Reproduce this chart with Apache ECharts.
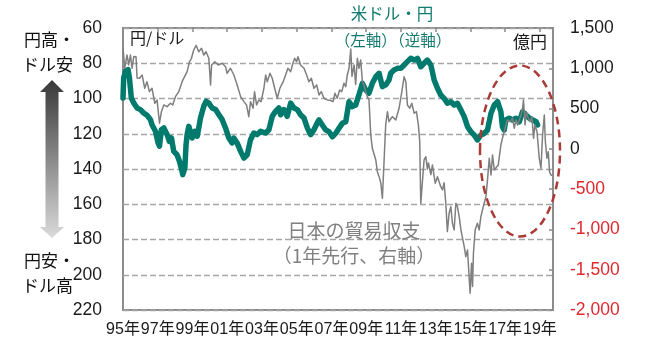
<!DOCTYPE html>
<html>
<head>
<meta charset="utf-8">
<script src="https://cdn.jsdelivr.net/npm/echarts@6/dist/echarts.min.js"></script>
<style>
  html, body { margin: 0; padding: 0; background: #ffffff; }
  #chart { width: 651px; height: 345px; }
</style>
</head>
<body>
<div id="chart"></div>
<script>
// USD/JPY (yen per dollar, left axis, inverted)
const usdJpyTime = [1995.00, 1995.04, 1995.14, 1995.29, 1995.37, 1995.48, 1995.62, 1995.81, 1996.00, 1996.19,
  1996.38, 1996.58, 1996.67, 1996.87, 1997.02, 1997.10, 1997.21, 1997.35, 1997.54, 1997.67,
  1997.79, 1997.92, 1998.11, 1998.25, 1998.40, 1998.44, 1998.56, 1998.63, 1998.69, 1998.79,
  1998.88, 1998.98, 1999.13, 1999.27, 1999.36, 1999.46, 1999.65, 1999.78, 1999.94, 2000.13,
  2000.33, 2000.52, 2000.71, 2000.90, 2001.09, 2001.28, 2001.38, 2001.57, 2001.77, 2001.96,
  2002.15, 2002.34, 2002.53, 2002.72, 2002.92, 2003.21, 2003.40, 2003.59, 2003.78, 2003.97,
  2004.07, 2004.26, 2004.45, 2004.65, 2004.84, 2005.03, 2005.22, 2005.42, 2005.61, 2005.80,
  2005.99, 2006.18, 2006.28, 2006.47, 2006.67, 2006.86, 2007.05, 2007.24, 2007.43, 2007.62,
  2007.82, 2008.01, 2008.20, 2008.39, 2008.58, 2008.78, 2008.97, 2009.16, 2009.35, 2009.55,
  2009.74, 2009.93, 2010.12, 2010.31, 2010.41, 2010.60, 2010.79, 2010.99, 2011.18, 2011.37,
  2011.56, 2011.76, 2011.95, 2012.14, 2012.33, 2012.52, 2012.72, 2012.91, 2013.10, 2013.29,
  2013.48, 2013.67, 2013.87, 2014.06, 2014.25, 2014.45, 2014.64, 2014.83, 2015.02, 2015.21,
  2015.40, 2015.60, 2015.79, 2015.98, 2016.18, 2016.37, 2016.56, 2016.65, 2016.75, 2016.84,
  2016.94, 2017.04, 2017.23, 2017.42, 2017.62, 2017.81, 2018.00, 2018.20, 2018.39, 2018.58,
  2018.78, 2018.86];
const usdJpyValue = [99.7, 88.4, 84.6, 83.6, 88.4, 99.7, 102.6, 105.4, 106.3, 108.2,
  109.5, 112, 114.9, 118.6, 125.2, 127.1, 117.7, 116.7, 120.5, 124.3,
  122.4, 130, 131.9, 135.6, 141.3, 143.2, 139.4, 126.2, 120.5, 115.8,
  114.9, 122.4, 118.6, 121.4, 116.7, 111.1, 104.4, 101.6, 102.6, 105.4,
  106.3, 109.2, 112, 116.7, 122.4, 125.2, 122.4, 125.2, 130, 133.8,
  131.9, 123.4, 119.6, 120.5, 118.6, 119.6, 117.7, 110.1, 107.3, 105.4,
  109.2, 106.3, 110.1, 102.6, 105.4, 106.3, 109.2, 111.1, 116.7, 120.5,
  117.7, 113.9, 112.2, 115, 117.9, 118.8, 121.7, 119.8, 116.9, 114.1,
  113.2, 101.8, 104.6, 103.7, 98, 91.4, 95.2, 97, 91.4, 87.6,
  85.7, 93.3, 92.3, 89.5, 85.7, 83.8, 82.9, 82.9, 81, 79.1,
  77.2, 78.2, 77.2, 82, 80, 78.2, 81, 89.5, 94.2, 98,
  99.9, 102.7, 101.8, 103.7, 102.7, 106.5, 110.3, 116, 118.8, 120.7,
  123.5, 120.7, 119.8, 117.9, 108.4, 103.7, 101.8, 102.7, 107.5, 116,
  117.9, 112.2, 111.2, 112.2, 111.2, 113.2, 107.5, 109.4, 111.2, 112.2,
  113.2, 115];

// Japan trade balance, 100 million yen, shifted one year ahead (right axis)
const tradeTime = [1995.00, 1995.10, 1995.23, 1995.33, 1995.43, 1995.52, 1995.62, 1995.75, 1995.81, 1995.95,
  1996.10, 1996.25, 1996.38, 1996.52, 1996.67, 1996.83, 1996.96, 1997.10, 1997.21, 1997.35,
  1997.54, 1997.73, 1997.86, 1998.02, 1998.21, 1998.40, 1998.50, 1998.69, 1998.83, 1998.94,
  1999.07, 1999.21, 1999.36, 1999.52, 1999.65, 1999.78, 1999.94, 2000.04, 2000.10, 2000.29,
  2000.48, 2000.71, 2000.90, 2000.99, 2001.19, 2001.38, 2001.57, 2001.77, 2001.96, 2002.11,
  2002.24, 2002.34, 2002.49, 2002.57, 2002.69, 2002.82, 2002.95, 2003.11, 2003.21, 2003.30,
  2003.46, 2003.59, 2003.73, 2003.88, 2004.03, 2004.22, 2004.36, 2004.49, 2004.65, 2004.78,
  2004.88, 2004.99, 2005.07, 2005.22, 2005.42, 2005.57, 2005.70, 2005.84, 2005.99, 2006.15,
  2006.28, 2006.41, 2006.57, 2006.76, 2006.95, 2007.09, 2007.20, 2007.33, 2007.47, 2007.59,
  2007.72, 2007.82, 2007.91, 2008.01, 2008.11, 2008.18, 2008.30, 2008.39, 2008.49, 2008.58,
  2008.68, 2008.78, 2008.87, 2008.97, 2009.06, 2009.16, 2009.26, 2009.35, 2009.55, 2009.64,
  2009.74, 2009.84, 2009.93, 2010.12, 2010.22, 2010.31, 2010.50, 2010.70, 2010.89, 2011.05,
  2011.18, 2011.28, 2011.37, 2011.51, 2011.62, 2011.76, 2011.89, 2012.00, 2012.08, 2012.11,
  2012.14, 2012.33, 2012.43, 2012.52, 2012.58, 2012.72, 2012.81, 2012.97, 2013.10, 2013.29,
  2013.39, 2013.48, 2013.58, 2013.67, 2013.77, 2013.87, 2013.96, 2014.06, 2014.16, 2014.25,
  2014.35, 2014.45, 2014.64, 2014.73, 2014.83, 2014.92, 2014.98, 2015.06, 2015.12, 2015.17,
  2015.27, 2015.40, 2015.50, 2015.60, 2015.69, 2015.79, 2015.89, 2015.98, 2016.08, 2016.18,
  2016.27, 2016.37, 2016.46, 2016.60, 2016.75, 2016.84, 2016.94, 2017.04, 2017.13, 2017.29,
  2017.42, 2017.52, 2017.62, 2017.71, 2017.81, 2017.91, 2018.00, 2018.05, 2018.14, 2018.21,
  2018.33, 2018.44, 2018.54, 2018.63, 2018.71, 2018.83, 2018.96, 2019.06, 2019.15, 2019.25,
  2019.31, 2019.40, 2019.48, 2019.55, 2019.63, 2019.71];
const tradeValue = [1260, 1000, 1165, 1041, 1165, 1000, 1145, 1144, 879, 876,
  917, 752, 834, 710, 752, 566, 607, 318, 462, 545,
  524, 566, 545, 648, 710, 834, 814, 958, 1082, 1124,
  1227, 1285, 1206, 1248, 1165, 1206, 1124, 793, 1041, 1082,
  1041, 1062, 1020, 938, 1000, 917, 793, 648, 586, 545,
  400, 586, 504, 710, 545, 607, 586, 752, 917, 834,
  938, 876, 752, 628, 752, 834, 917, 1000, 958, 1062,
  1124, 1082, 1144, 1041, 1000, 917, 834, 876, 752, 793,
  669, 710, 628, 607, 600, 586, 690, 628, 731, 710,
  814, 772, 917, 1000, 1240, 900, 1040, 800, 1124, 1000,
  1103, 834, 793, 710, 648, 607, 172, 7, -138, -283,
  -345, -427, -614, 297, 462, 338, 400, 359, 504, 710,
  896, 834, 545, 504, 566, 442, 462, 297, 90, -324,
  -675, -137, -97, -250, -175, -320, -200, -427, -345, -469,
  -510, -420, -675, -1027, -799, -717, -924, -1006, -675, -717,
  -841, -1006, -1213, -1337, -1255, -1585, -1792, -1420, -1709, -1296,
  -1006, -924, -1006, -841, -758, -675, -593, -386, -117, -324,
  -76, -262, -241, -200, 48, 131, 213, 297, 359, 337,
  380, 256, 359, 297, 359, 421, 504, 607, 297, 462,
  380, 337, 400, 131, 297, 213, -117, -241, 172, 421,
  90, -117, -35, -283, -324, -330];

// Axis ranges and tick labels
const yearTicks = [1995, 1997, 1999, 2001, 2003, 2005, 2007, 2009, 2011, 2013, 2015, 2017, 2019];
const yearLabels = ['95年', '97年', '99年', '01年', '03年', '05年', '07年', '09年', '11年', '13年', '15年', '17年', '19年'];
const xRange = [1995, 2019.75];
const leftRange = [60, 220];
const rightRange = [-2000, 1500];

const zip = (xs, ys) => xs.map((x, i) => [x, ys[i]]);

const TEAL = '#007a6c';
const GRAY = '#7f7f7f';
const FRAME = '#8c8c8c';
const NUM_FONT = '"Liberation Sans", "Noto Sans CJK JP", sans-serif';
const JP_FONT = '"Noto Sans CJK JP", "Liberation Sans", sans-serif';

function withCommas(v) {
  const n = Math.abs(v);
  const s = String(n).replace(/\B(?=(\d{3})+(?!\d))/g, ',');
  return (v < 0 ? '-' : '') + s;
}

const chart = echarts.init(document.getElementById('chart'), null, { renderer: 'canvas' });

const option = {
  animation: false,
  backgroundColor: '#ffffff',
  grid: {
    left: 123, right: 98, top: 28, bottom: 35,
    show: true, borderColor: FRAME, borderWidth: 2, backgroundColor: 'transparent'
  },
  xAxis: [
    {
      type: 'value', position: 'bottom',
      min: xRange[0], max: xRange[1], interval: 2,
      axisLine: { show: false }, axisTick: { show: false }, splitLine: { show: false },
      axisLabel: {
        showMinLabel: true, showMaxLabel: false,
        margin: 12, fontSize: 16, color: '#1a1a1a', fontFamily: NUM_FONT,
        formatter: v => {
          const i = yearTicks.indexOf(Math.round(v * 100) / 100);
          return i >= 0 ? yearLabels[i] : '';
        }
      }
    },
    {
      type: 'value', position: 'top',
      min: xRange[0], max: xRange[1], interval: 2,
      axisLine: { show: false }, splitLine: { show: false },
      axisLabel: { show: false },
      axisTick: { show: true, inside: true, length: 4, lineStyle: { color: FRAME, width: 1.5 } }
    }
  ],
  yAxis: [
    {
      type: 'value', position: 'left', inverse: true,
      min: leftRange[0], max: leftRange[1], interval: 20,
      axisLine: { show: false }, axisTick: { show: false },
      splitLine: { show: true, lineStyle: { color: '#a6a6a6', width: 1.3, type: [6, 3] } },
      axisLabel: { margin: 21, fontSize: 17.5, color: '#1a1a1a', fontFamily: NUM_FONT }
    },
    {
      type: 'value', position: 'right',
      min: rightRange[0], max: rightRange[1], interval: 500,
      axisLine: { show: false }, splitLine: { show: false },
      axisTick: { show: true, inside: true, length: 4, lineStyle: { color: FRAME, width: 1.5 } },
      axisLabel: {
        margin: 17, fontSize: 17.5, fontFamily: NUM_FONT,
        formatter: v => withCommas(v),
        color: v => (parseFloat(v) < 0 ? '#e0282d' : '#1a1a1a')
      }
    }
  ],
  series: [
    {
      name: '米ドル・円', type: 'line', xAxisIndex: 0, yAxisIndex: 0,
      data: zip(usdJpyTime, usdJpyValue),
      showSymbol: false, symbol: 'none', z: 3,
      lineStyle: { color: TEAL, width: 5.5, join: 'round', cap: 'round' }
    },
    {
      name: '日本の貿易収支', type: 'line', xAxisIndex: 0, yAxisIndex: 1,
      data: zip(tradeTime, tradeValue),
      showSymbol: false, symbol: 'none', z: 4,
      lineStyle: { color: GRAY, width: 1.5, join: 'round' }
    }
  ],
  graphic: [
    // up/down gradient arrow on the left
    {
      type: 'polygon', z: 10,
      shape: { points: [[52, 80], [64, 92], [58.5, 92], [58.5, 227], [64, 227], [52, 238], [40, 227], [45.5, 227], [45.5, 92], [40, 92]] },
      style: {
        fill: new echarts.graphic.LinearGradient(0, 0, 0, 1, [
          { offset: 0, color: '#383838' },
          { offset: 1, color: '#dadada' }
        ])
      }
    },
    { type: 'text', left: 24, top: 31, z: 10, style: { text: '円高・', font: '17px ' + JP_FONT, fill: '#111' } },
    { type: 'text', left: 22, top: 56, z: 10, style: { text: 'ドル安', font: '17px ' + JP_FONT, fill: '#111' } },
    { type: 'text', left: 24, top: 252, z: 10, style: { text: '円安・', font: '17px ' + JP_FONT, fill: '#111' } },
    { type: 'text', left: 22, top: 277, z: 10, style: { text: 'ドル高', font: '17px ' + JP_FONT, fill: '#111' } },
    // in-plot captions
    { type: 'text', left: 130, top: 30, z: 10, style: { text: '円/ドル', font: '16px ' + JP_FONT, fill: '#1a1a1a' } },
    { type: 'text', left: 513, top: 33, z: 10, style: { text: '億円', font: '17px ' + JP_FONT, fill: '#1a1a1a' } },
    { type: 'text', x: 392, y: 14, z: 10, style: { text: '米ドル・円', font: '16.5px ' + JP_FONT, fill: '#127a6f', align: 'center', verticalAlign: 'middle' } },
    { type: 'text', x: 393, y: 40, z: 10, style: { text: '（左軸）（逆軸）', font: '15.5px ' + JP_FONT, fill: '#127a6f', align: 'center', verticalAlign: 'middle' } },
    { type: 'text', x: 354, y: 231, z: 10, style: { text: '日本の貿易収支', font: '19px ' + JP_FONT, fill: '#808080', align: 'center', verticalAlign: 'middle' } },
    { type: 'text', x: 354, y: 256, z: 10, style: { text: '（1年先行、右軸）', font: '19px ' + JP_FONT, fill: '#808080', align: 'center', verticalAlign: 'middle' } },
    // dashed highlight around the recent period
    {
      type: 'ellipse', z: 20,
      shape: { cx: 520, cy: 151, rx: 40, ry: 85.5 },
      style: { fill: 'none', stroke: '#a93a36', lineWidth: 2.5, lineDash: [8, 5] }
    }
  ]
};

chart.setOption(option);
</script>
</body>
</html>
